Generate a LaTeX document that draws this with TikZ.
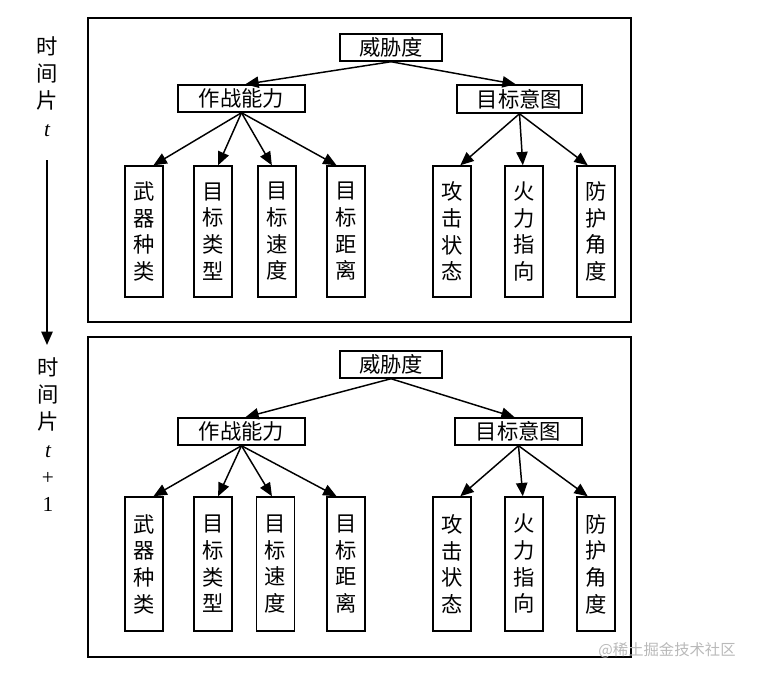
\documentclass[tikz,border=0pt]{standalone}
\usepackage{fontspec}
\setmainfont{Liberation Serif}
\newfontfamily\cjk{Noto Sans CJK SC}
\usetikzlibrary{arrows.meta,calc}
\begin{document}
\begin{tikzpicture}[x=0.75pt,y=-0.75pt,
  box/.style={draw,line width=1.1pt,inner sep=0pt,font=\cjk\fontsize{16}{20}\selectfont,align=center},
  hbox/.style={box,minimum height=20.25pt},
  leaf/.style={box,minimum width=28.5pt},
  arr/.style={line width=1.1pt,-{Triangle[length=10pt,width=8.5pt]}},
  panel/.style={draw,line width=1.1pt},
  side/.style={inner sep=0pt,align=center,font=\cjk\fontsize{16}{20.5}\selectfont},
  wmark/.style={inner sep=0pt,text=gray!55,font=\cjk\fontsize{11.5}{13}\selectfont}]
\useasboundingbox (0,0) rectangle (757,678);
% ---------- top panel ----------
\draw[panel] (88,18) rectangle (631,322);
\node[hbox,minimum width=76.5pt] (aw) at (391,47.5) {威胁度};
\node[hbox,minimum width=95.25pt] (az) at (241.5,98.5) {作战能力};
\node[hbox,minimum width=93.75pt,minimum height=21pt] (ay) at (519.5,99) {目标意图};
\node[leaf,minimum height=98.25pt] (a1) at (144,231.5) {武\\器\\种\\类};
\node[leaf,minimum height=98.25pt] (a2) at (213,231.5) {目\\标\\类\\型};
\node[leaf,minimum height=98.25pt] (a3) at (277,231.5) {目\\标\\速\\度};
\node[leaf,minimum height=98.25pt] (a4) at (346,231.5) {目\\标\\距\\离};
\node[leaf,minimum height=98.25pt] (a5) at (452,231.5) {攻\\击\\状\\态};
\node[leaf,minimum height=98.25pt] (a6) at (524,231.5) {火\\力\\指\\向};
\node[leaf,minimum height=98.25pt] (a7) at (596,231.5) {防\\护\\角\\度};
\draw[arr] (aw.south) -- ($(az.north west)!0.53!(az.north east)$);
\draw[arr] (aw.south) -- ($(ay.north west)!0.47!(ay.north east)$);
\draw[arr] (az.south) -- ($(a1.north west)!0.74!(a1.north east)$);
\draw[arr] (az.south) -- ($(a2.north west)!0.63!(a2.north east)$);
\draw[arr] (az.south) -- ($(a3.north west)!0.37!(a3.north east)$);
\draw[arr] (az.south) -- ($(a4.north west)!0.26!(a4.north east)$);
\draw[arr] (ay.south) -- ($(a5.north west)!0.71!(a5.north east)$);
\draw[arr] (ay.south) -- ($(a6.north west)!0.47!(a6.north east)$);
\draw[arr] (ay.south) -- ($(a7.north west)!0.29!(a7.north east)$);
% ---------- bottom panel ----------
\draw[panel] (88,337) rectangle (631,657);
\node[hbox,minimum width=76.5pt] (bw) at (391,364.5) {威胁度};
\node[hbox,minimum width=95.25pt] (bz) at (241.5,431.5) {作战能力};
\node[hbox,minimum width=95.25pt] (by) at (518.5,431.5) {目标意图};
\node[leaf,minimum height=100.5pt] (b1) at (144,564) {武\\器\\种\\类};
\node[leaf,minimum height=100.5pt] (b2) at (213,564) {目\\标\\类\\型};
\node[leaf,minimum height=100.5pt] (b3) at (275.5,564) {目\\标\\速\\度};
\node[leaf,minimum height=100.5pt] (b4) at (346,564) {目\\标\\距\\离};
\node[leaf,minimum height=100.5pt] (b5) at (452,564) {攻\\击\\状\\态};
\node[leaf,minimum height=100.5pt] (b6) at (524,564) {火\\力\\指\\向};
\node[leaf,minimum height=100.5pt] (b7) at (596,564) {防\\护\\角\\度};
\draw[arr] (bw.south) -- ($(bz.north west)!0.53!(bz.north east)$);
\draw[arr] (bw.south) -- ($(by.north west)!0.47!(by.north east)$);
\draw[arr] (bz.south) -- ($(b1.north west)!0.74!(b1.north east)$);
\draw[arr] (bz.south) -- ($(b2.north west)!0.63!(b2.north east)$);
\draw[arr] (bz.south) -- ($(b3.north west)!0.41!(b3.north east)$);
\draw[arr] (bz.south) -- ($(b4.north west)!0.26!(b4.north east)$);
\draw[arr] (by.south) -- ($(b5.north west)!0.71!(b5.north east)$);
\draw[arr] (by.south) -- ($(b6.north west)!0.47!(b6.north east)$);
\draw[arr] (by.south) -- ($(b7.north west)!0.29!(b7.north east)$);
% ---------- time axis ----------
\node[side] (lt) at (47,86.5) {时\\间\\片\\{\rmfamily\itshape t}};
\node[side] (lb) at (48,434.5) {时\\间\\片\\{\rmfamily\itshape t}\\{\rmfamily +}\\{\rmfamily 1}};
\coordinate (s0) at (47,160);
\coordinate (s1) at (47,345);
\draw[arr] (s0) -- (s1);
% ---------- watermark ----------
\node[wmark] (wm) at (667,650) {@稀土掘金技术社区};
\end{tikzpicture}
\end{document}
